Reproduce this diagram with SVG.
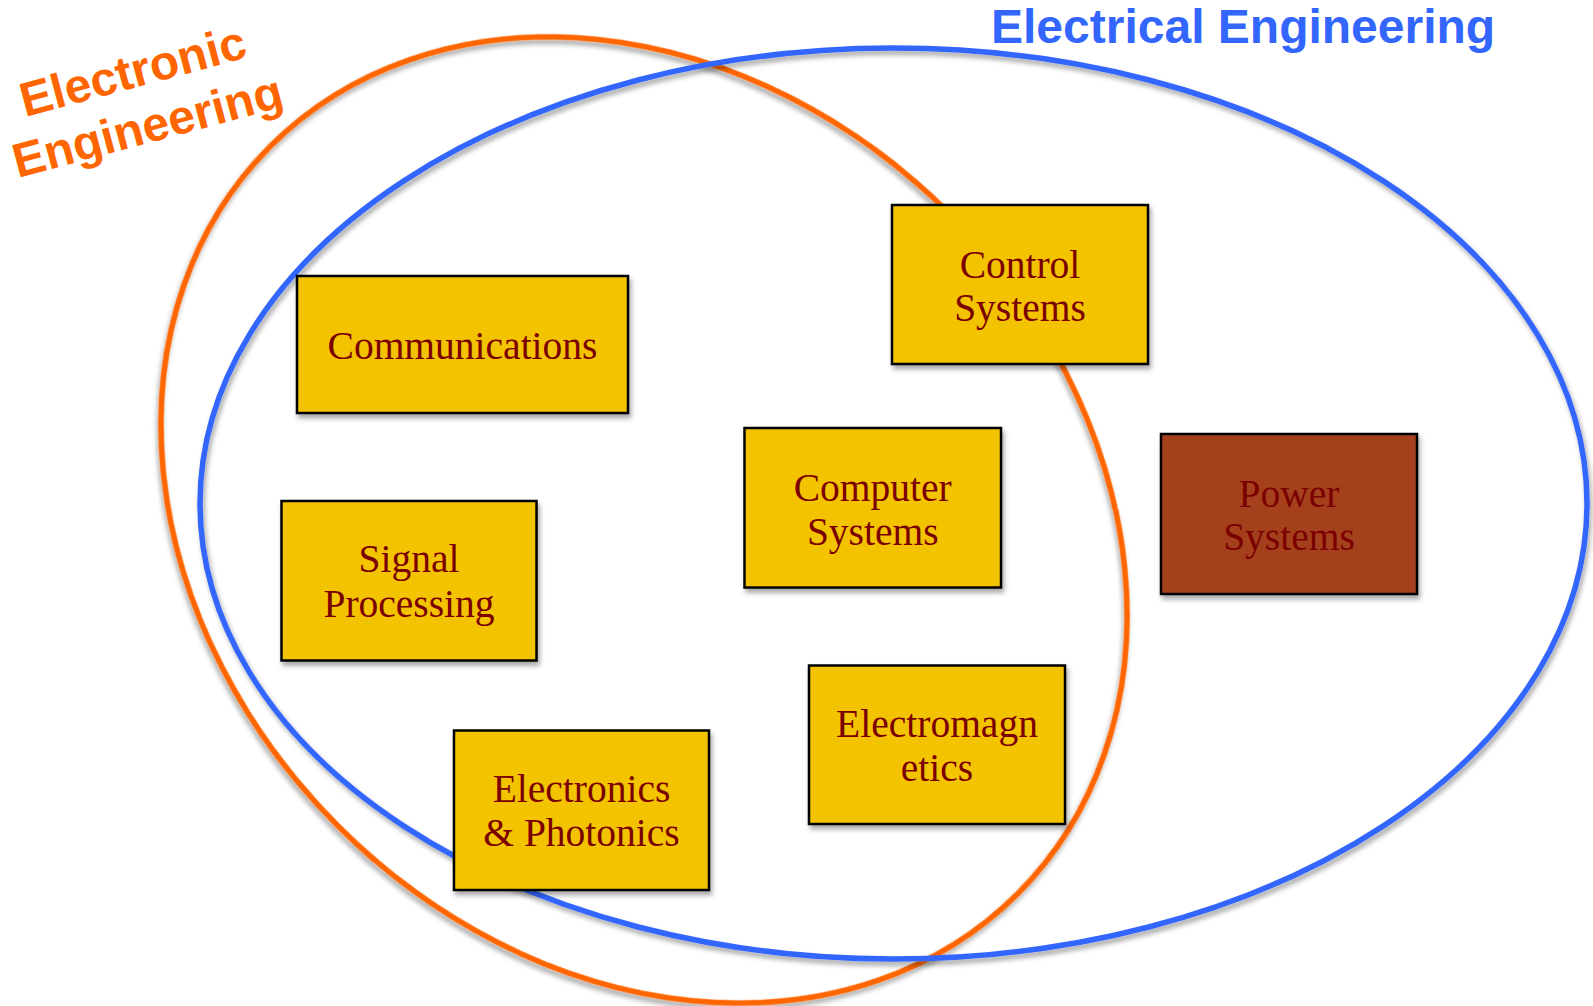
<svg xmlns="http://www.w3.org/2000/svg" width="1593" height="1006" viewBox="0 0 1593 1006">
<defs>
<filter id="sh" x="-10%" y="-10%" width="120%" height="120%">
<feDropShadow dx="2" dy="4" stdDeviation="2.5" flood-color="#000" flood-opacity="0.35"/>
</filter>
<style>
.ring{fill:none;stroke-width:5.5;filter:url(#sh)}
.box{fill:#F3C300;stroke:#000;stroke-width:2.5;filter:url(#sh)}
.pbox{fill:#A5411B;stroke:#000;stroke-width:2.5;filter:url(#sh)}
.lbl{font-family:"Liberation Serif","DejaVu Serif",serif;font-size:39.5px;fill:#7B0000;text-anchor:middle}
.ttl{font-family:"Liberation Sans",Arial,sans-serif;font-weight:bold;font-size:48px}
</style>
</defs>
<rect width="1593" height="1006" fill="#fff"/>
<g id="sets">
<ellipse id="electronic-set" class="ring" stroke="#FF6600" cx="644" cy="520" rx="528.5" ry="432.8" transform="rotate(45 644 520)"/>
<ellipse id="electrical-set" class="ring" stroke="#3366FF" cx="893.5" cy="503.5" rx="693.5" ry="455.5"/>
</g>
<g id="title-electrical">
<text class="ttl" x="991" y="43" fill="#3366FF" font-size="48.8">Electrical Engineering</text>
</g>
<g id="title-electronic" transform="translate(137 87) rotate(-15)">
<text class="ttl" fill="#FF6600" text-anchor="middle" x="0" y="0">Electronic</text>
<text class="ttl" fill="#FF6600" text-anchor="middle" x="0" y="57">Engineering</text>
</g>
<g id="communications">
<rect class="box" x="297" y="276" width="331" height="137"/>
<text class="lbl" x="462.5" y="359">Communications</text>
</g>
<g id="control-systems">
<rect class="box" x="892" y="205" width="256" height="159"/>
<text class="lbl" x="1020" y="278">Control</text>
<text class="lbl" x="1020" y="321">Systems</text>
</g>
<g id="computer-systems">
<rect class="box" x="744.5" y="428" width="256.5" height="159.5"/>
<text class="lbl" x="872.75" y="501">Computer</text>
<text class="lbl" x="872.75" y="544.5">Systems</text>
</g>
<g id="power-systems">
<rect class="pbox" x="1161" y="434" width="256" height="160"/>
<text class="lbl" x="1289" y="507">Power</text>
<text class="lbl" x="1289" y="550">Systems</text>
</g>
<g id="signal-processing">
<rect class="box" x="281.5" y="501" width="255" height="159.5"/>
<text class="lbl" x="409" y="572">Signal</text>
<text class="lbl" x="409" y="617">Processing</text>
</g>
<g id="electromagnetics">
<rect class="box" x="809" y="665.5" width="256" height="158.5"/>
<text class="lbl" x="937" y="737">Electromagn</text>
<text class="lbl" x="937" y="781">etics</text>
</g>
<g id="electronics-photonics">
<rect class="box" x="454" y="730.5" width="255" height="159.5"/>
<text class="lbl" x="581.5" y="802">Electronics</text>
<text class="lbl" x="581.5" y="846">&amp; Photonics</text>
</g>
<g id="connectors"/>
</svg>
